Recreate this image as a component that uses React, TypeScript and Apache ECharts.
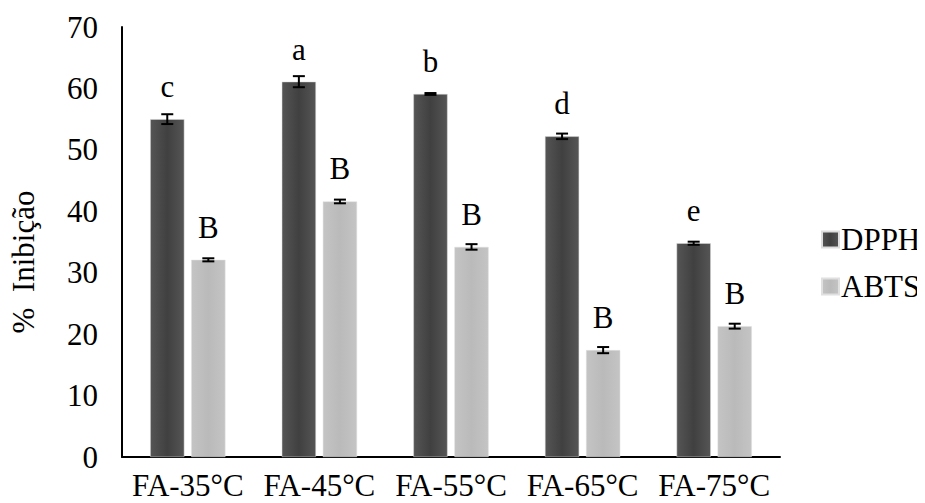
import React, { useEffect, useRef } from "react";
import * as echarts from "echarts";

const categories = ["FA-35°C", "FA-45°C", "FA-55°C", "FA-65°C", "FA-75°C"];
const dpph = [55.0, 61.1, 59.1, 52.2, 34.8];
const dpphErr = [0.8, 0.9, 0.15, 0.45, 0.25];
const dpphLetters = ["c", "a", "b", "d", "e"];
const abts = [32.1, 41.6, 34.2, 17.4, 21.3];
const abtsErr = [0.25, 0.3, 0.45, 0.5, 0.4];
const abtsLetters = ["B", "B", "B", "B", "B"];
const yTicks = { min: 0, max: 70, interval: 10 };

const FONT = "Liberation Serif";
const FS = 31;
const BAR_W = 0.26;
const GAP = 0.2;

function errorSeries(values: number[], errs: number[], side: number) {
  return {
    type: "custom",
    silent: true,
    z: 10,
    data: values.map((v, i) => [i, v - errs[i], v + errs[i]]),
    renderItem: (params: any, api: any) => {
      const band = api.size([1, 0])[0];
      const off = side * band * BAR_W * (1 + GAP) / 2;
      const lo = api.coord([api.value(0), api.value(1)]);
      const hi = api.coord([api.value(0), api.value(2)]);
      const x = lo[0] + off;
      const cap = 6;
      const style = { stroke: "#000", lineWidth: 2 };
      return {
        type: "group",
        children: [
          { type: "line", shape: { x1: x, y1: lo[1], x2: x, y2: hi[1] }, style },
          { type: "line", shape: { x1: x - cap, y1: lo[1], x2: x + cap, y2: lo[1] }, style },
          { type: "line", shape: { x1: x - cap, y1: hi[1], x2: x + cap, y2: hi[1] }, style },
        ],
      };
    },
  };
}

function grad(edge: string, mid: string) {
  return new echarts.graphic.LinearGradient(0, 0, 1, 0, [
    { offset: 0, color: edge },
    { offset: 0.5, color: mid },
    { offset: 1, color: edge },
  ]);
}

export default function App() {
  const ref = useRef<HTMLDivElement>(null);
  useEffect(() => {
    const chart = echarts.init(ref.current!, null, { renderer: "svg" });
    const labelStyle = (letters: string[]) => ({
      show: true,
      position: "top",
      distance: 17,
      fontFamily: FONT,
      fontSize: FS,
      color: "#000",
      formatter: (p: any) => letters[p.dataIndex],
    });
    chart.setOption({
      animation: false,
      backgroundColor: "#fff",
      grid: { left: 122, right: 145, top: 27, bottom: 46 },
      legend: {
        orient: "vertical",
        left: 816,
        top: 219,
        itemWidth: 17,
        itemHeight: 16,
        itemGap: 16,
        icon: "rect",
        data: ["DPPH", "ABTS"],
        textStyle: { fontFamily: FONT, fontSize: FS, color: "#000", padding: [0, 0, 0, -3] },
      },
      graphic: [
        {
          type: "text",
          x: 8,
          y: 262,
          rotation: Math.PI / 2,
          style: {
            text: "%  Inibição",
            font: `${FS}px ${FONT}`,
            fill: "#000",
            textAlign: "center",
            textVerticalAlign: "top",
          },
        },
      ],
      xAxis: {
        type: "category",
        data: categories,
        axisLine: { lineStyle: { color: "#000", width: 2 } },
        axisTick: { show: false },
        axisLabel: { fontFamily: FONT, fontSize: FS, lineHeight: 30, color: "#000", margin: 13, interval: 0 },
      },
      yAxis: {
        type: "value",
        min: yTicks.min,
        max: yTicks.max,
        interval: yTicks.interval,
        axisLine: { show: true, lineStyle: { color: "#000", width: 2 } },
        axisTick: { show: false },
        splitLine: { show: false },
        axisLabel: { fontFamily: FONT, fontSize: FS, color: "#000", margin: 24 },
      },
      series: [
        {
          name: "DPPH",
          type: "bar",
          data: dpph,
          barWidth: `${BAR_W * 100}%`,
          barGap: `${GAP * 100}%`,
          itemStyle: { color: grad("#555555", "#404040"), borderColor: "#dddddd", borderWidth: 0.5 },
          label: labelStyle(dpphLetters),
        },
        {
          name: "ABTS",
          type: "bar",
          data: abts,
          barWidth: `${BAR_W * 100}%`,
          barGap: `${GAP * 100}%`,
          itemStyle: { color: grad("#c4c4c4", "#bababa"), borderColor: "#e0e0e0", borderWidth: 0.5 },
          label: labelStyle(abtsLetters),
        },
        errorSeries(dpph, dpphErr, -1),
        errorSeries(abts, abtsErr, 1),
      ],
    });
    return () => chart.dispose();
  }, []);
  return <div ref={ref} style={{ width: 925, height: 503, marginLeft: -8, marginTop: -8 }} />;
}
